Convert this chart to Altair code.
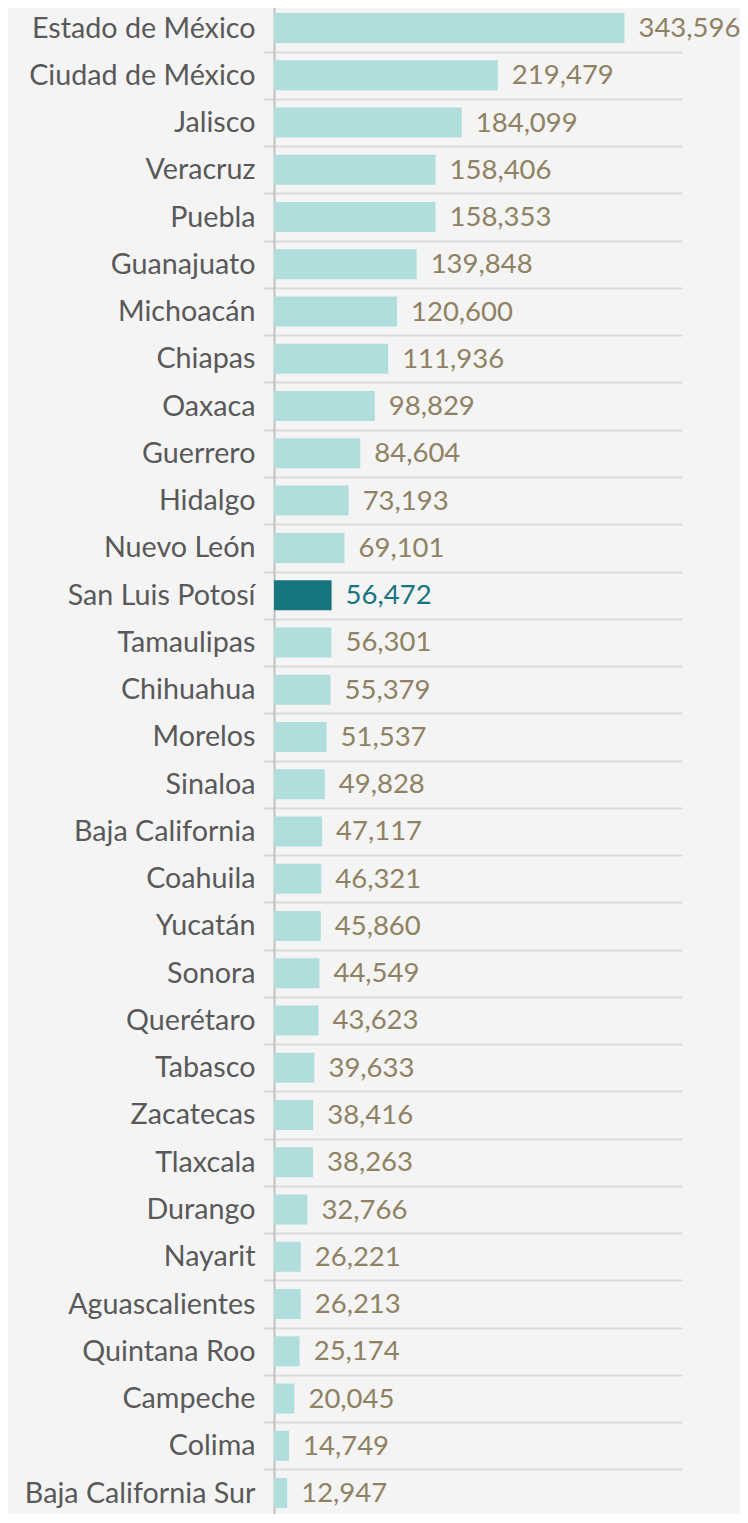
import altair as alt
import pandas as pd

states = ["Estado de México", "Ciudad de México", "Jalisco", "Veracruz", "Puebla",
          "Guanajuato", "Michoacán", "Chiapas", "Oaxaca", "Guerrero", "Hidalgo",
          "Nuevo León", "San Luis Potosí", "Tamaulipas", "Chihuahua", "Morelos",
          "Sinaloa", "Baja California", "Coahuila", "Yucatán", "Sonora", "Querétaro",
          "Tabasco", "Zacatecas", "Tlaxcala", "Durango", "Nayarit", "Aguascalientes",
          "Quintana Roo", "Campeche", "Colima", "Baja California Sur"]
values = [343596, 219479, 184099, 158406, 158353, 139848, 120600, 111936, 98829,
          84604, 73193, 69101, 56472, 56301, 55379, 51537, 49828, 47117, 46321,
          45860, 44549, 43623, 39633, 38416, 38263, 32766, 26221, 26213, 25174,
          20045, 14749, 12947]
highlight = "San Luis Potosí"

df = pd.DataFrame({"estado": states, "valor": values})
df["hl"] = df["estado"] == highlight

FONT = "Lato"
y = alt.Y("estado:N", sort=states, title=None,
          scale=alt.Scale(paddingInner=0, paddingOuter=0, range=[-3.6, 1508.7]),
          axis=alt.Axis(labelFont=FONT, labelFontSize=28.7, labelColor="#595959",
                        labelPadding=9, tickSize=10, tickColor="#d6d6d6", tickWidth=2,
                        tickBand="extent", grid=True, gridColor="#dcdcdc", gridWidth=2,
                        domainColor="#c0c0c0", domainWidth=2, labelLimit=400))
x = alt.X("valor:Q", title=None, scale=alt.Scale(domain=[0, 400000], nice=False),
          axis=None)

bars = alt.Chart(df).mark_bar(height=30).encode(
    y=y, x=x,
    color=alt.condition("datum.hl", alt.value("#17757f"), alt.value("#b0dedd")),
)
labels = alt.Chart(df).mark_text(align="left", baseline="middle", dx=14, dy=1,
                                 font=FONT, fontSize=27.5).encode(
    y=y, x=x,
    text=alt.Text("valor:Q", format=",d"),
    color=alt.condition("datum.hl", alt.value("#17757f"), alt.value("#8f8262")),
)

chart = (bars + labels).properties(
    width=408, height=1506,
    background="#f4f4f4",
    padding={"left": 266, "top": 0, "right": 58, "bottom": 0},
    autosize=alt.AutoSizeParams(type="none"),
).configure_view(stroke=None)

chart.save("out.html", embed_options={"renderer": "svg", "actions": False})
